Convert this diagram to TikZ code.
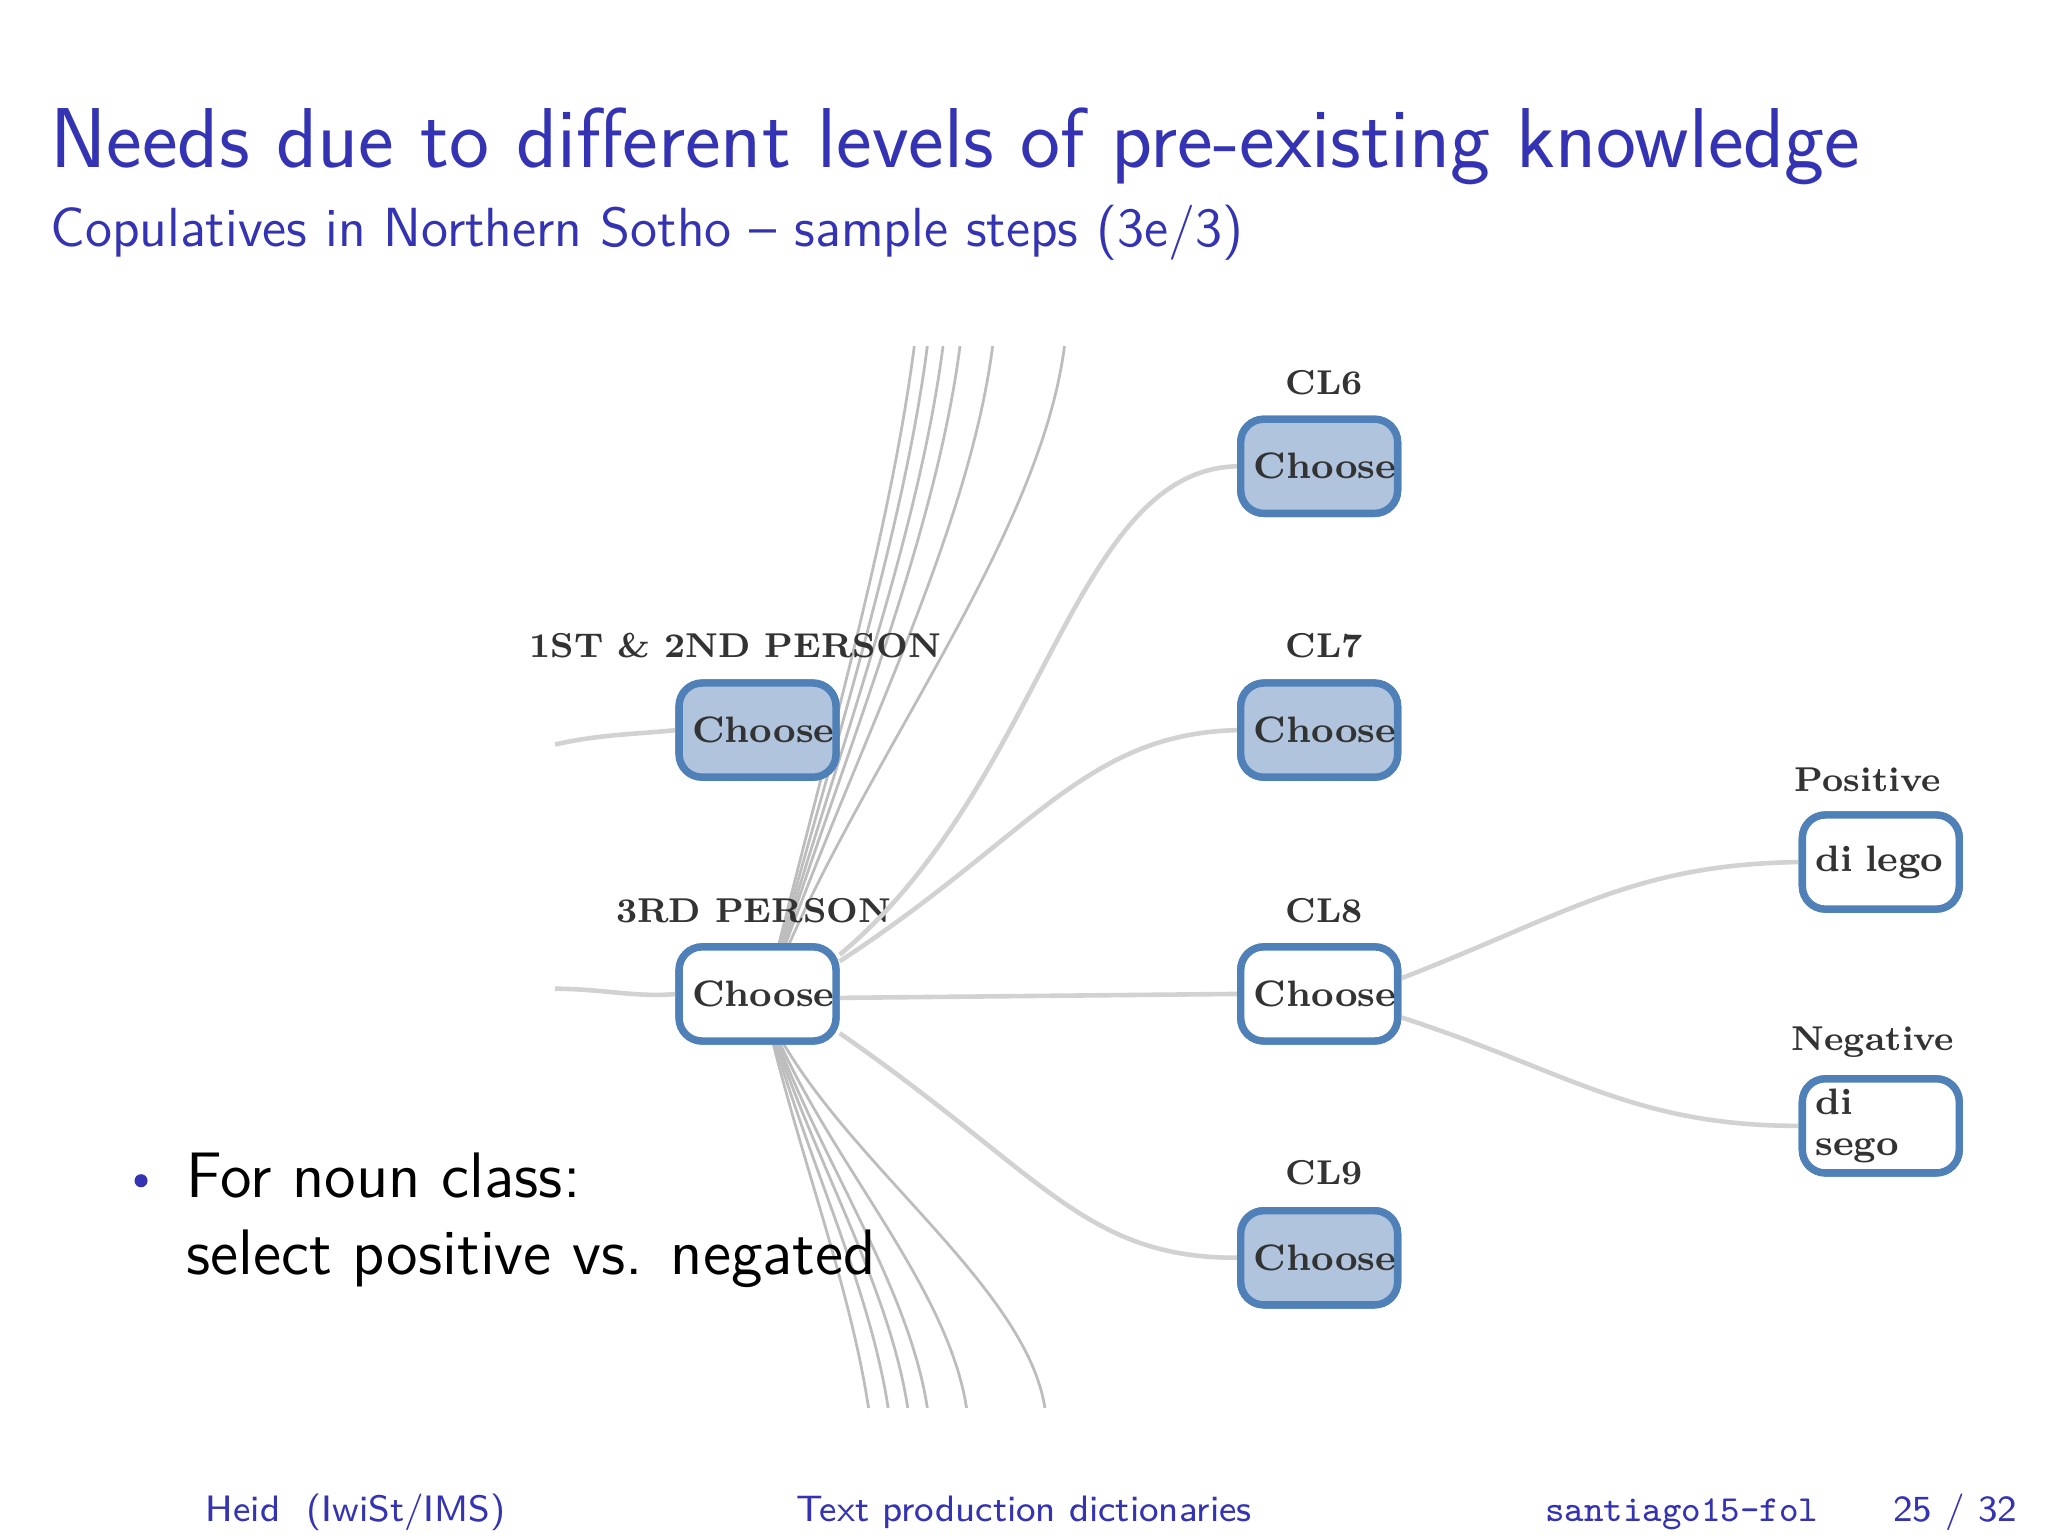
\documentclass[tikz,border=0pt]{standalone}
\usepackage{tikz}
\definecolor{beam}{HTML}{3333B3}
\definecolor{bfill}{HTML}{B0C4DE}
\definecolor{bdraw}{HTML}{4F81B8}
\definecolor{ln}{HTML}{D2D2D2}
\tikzset{
 box/.style={draw=bdraw,line width=1.6pt,rounded corners=5pt,minimum width=1.2cm,minimum height=0.72cm,font=\fontsize{8}{9}\selectfont\bfseries,text=black!80,align=left,text width=1.0cm,inner sep=0pt},
 fbox/.style={box,fill=bfill},
 wbox/.style={box,fill=white},
 lab/.style={font=\fontsize{7.5}{9}\selectfont\bfseries,text=black!80},
 con/.style={draw=ln,line width=1pt},
 fan/.style={draw=ln!90!black,line width=0.6pt},
}
\begin{document}
\begin{tikzpicture}[x=0.01cm,y=-0.01cm]
\useasboundingbox (0,0) rectangle (1568,1176);
\fill[white] (0,0) rectangle (1568,1176);
\node[anchor=base west,text=beam,font=\sffamily\fontsize{18.5}{20}\selectfont,inner sep=0] (title) at (38,128) {Needs due to different levels of pre-existing knowledge};
\node[anchor=base west,text=beam,font=\sffamily\fontsize{12}{14}\selectfont,inner sep=0] (sub) at (38,189) {Copulatives in Northern Sotho -- sample steps (3e/3)};
% fan lines
\coordinate (fc) at (585,770);
\foreach \x/\d in {700/0,710/4,722/8,735/12,760/16,815/22}{
 \draw[fan] (fc) .. controls (625+\d,600) and (\x-20,420) .. (\x,265);}
\foreach \x/\d in {665/0,680/4,695/8,710/12,740/16,800/22}{
 \draw[fan] (fc) .. controls (610+\d,880) and (\x-15,980) .. (\x,1078);}
% boxes
\node[fbox] (cl6) at (1010,357) {Choose};
\node[fbox] (cl7) at (1010,559) {Choose};
\node[wbox] (cl8) at (1010,761) {Choose};
\node[fbox] (cl9) at (1010,963) {Choose};
\node[fbox] (p12) at (580,559) {Choose};
\node[wbox] (p3) at (580,761) {Choose};
\node[wbox] (pos) at (1440,660) {di lego};
\node[wbox] (neg) at (1440,862) {di sego};
\node[lab] (l6) at (1014,293) {CL6};
\node[lab] (l7) at (1014,494) {CL7};
\node[lab] (l8) at (1014,697) {CL8};
\node[lab] (l9) at (1014,898) {CL9};
\node[lab] (l12) at (563,494) {1ST \& 2ND PERSON};
\node[lab] (l3) at (577,697) {3RD PERSON};
\node[lab] (lp) at (1430,597) {Positive};
\node[lab] (ln) at (1434,798) {Negative};
% connectors
\coordinate (in1) at (425,570);
\coordinate (in2) at (425,757);
\begin{scope}[on background layer/.style={}]
\draw[con] (in1) .. controls (460,562) and (490,562) .. (p12.west);
\draw[con] (in2) .. controls (460,757) and (490,764) .. (p3.west);
\draw[con] (p3.east) ++(0,-30) .. controls (800,600) and (820,360) .. (cl6.west);
\draw[con] (p3.east) ++(0,-25) .. controls (790,640) and (830,562) .. (cl7.west);
\draw[con] (p3.east) ++(0,3) -- (cl8.west);
\draw[con] (p3.east) ++(0,30) .. controls (800,900) and (830,963) .. (cl9.west);
\draw[con] (cl8.east) ++(0,-12) .. controls (1200,700) and (1250,662) .. (pos.west);
\draw[con] (cl8.east) ++(0,18) .. controls (1200,820) and (1250,862) .. (neg.west);
\end{scope}
% redraw boxes on top
\node[fbox] at (cl6) {Choose};
\node[fbox] at (cl7) {Choose};
\node[wbox] at (cl8) {Choose};
\node[fbox] at (cl9) {Choose};
\node[fbox] at (p12) {Choose};
\node[wbox] at (p3) {Choose};
\node[wbox] at (pos) {di lego};
\node[wbox] at (neg) {di sego};
% bullet
\fill[beam] (108,904) circle (5);
\node[anchor=base west,font=\sffamily\fontsize{14}{20}\selectfont,inner sep=0] (b1) at (142,917) {For noun class:};
\node[anchor=base west,font=\sffamily\fontsize{14}{20}\selectfont,inner sep=0] (b2) at (142,976) {select positive vs. negated};
% footer
\node[anchor=base west,text=beam,font=\sffamily\fontsize{8}{9}\selectfont,inner sep=0] (f1) at (157,1165) {Heid\ \ (IwiSt/IMS)};
\node[anchor=base,text=beam,font=\sffamily\fontsize{8}{9}\selectfont,inner sep=0] (f2) at (784,1165) {Text production dictionaries};
\node[anchor=base east,text=beam,font=\ttfamily\fontsize{8}{9}\selectfont,inner sep=0] (f3) at (1393,1165) {santiago15-fol};
\node[anchor=base east,text=beam,font=\sffamily\fontsize{8}{9}\selectfont,inner sep=0] (f4) at (1545,1165) {25 / 32};
\end{tikzpicture}
\end{document}
